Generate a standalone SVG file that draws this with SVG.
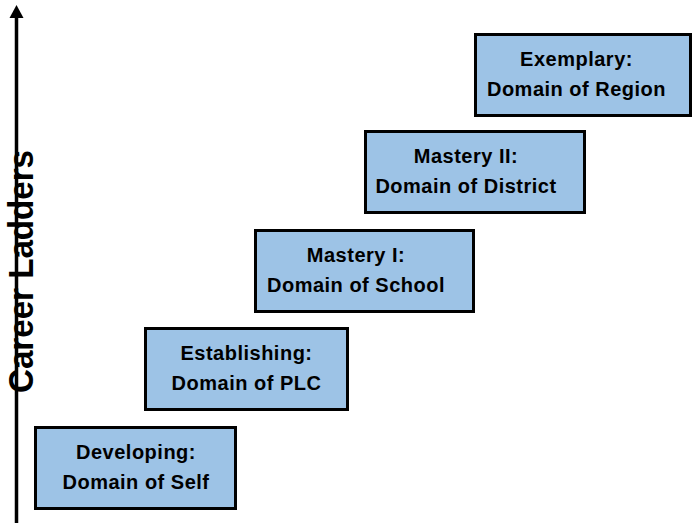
<svg xmlns="http://www.w3.org/2000/svg" width="693" height="523" viewBox="0 0 693 523">
  <style>
    .step rect { fill: #9dc3e6; stroke: #000; stroke-width: 3; }
    .step text { font-family: "Liberation Sans", Arial, sans-serif; font-weight: bold; font-size: 20px; letter-spacing: 0.5px; fill: #000; text-anchor: middle; }
    .axis-label { font-family: "Liberation Sans", Arial, sans-serif; font-weight: bold; font-size: 35px; fill: #000; text-anchor: middle; }
  </style>
  <rect width="693" height="523" fill="#fff"/>

  <!-- vertical axis with arrowhead -->
  <g id="axis">
    <text class="axis-label" transform="translate(33,271.5) rotate(-90)" textLength="243" lengthAdjust="spacingAndGlyphs">Career Ladders</text>
    <line x1="16.5" y1="16" x2="16.5" y2="523" stroke="#000" stroke-width="3.5"/>
    <polygon points="16.5,5 9.5,18 23.5,18" fill="#000"/>
  </g>

  <!-- ladder steps -->
  <g id="developing" class="step">
    <rect x="35.5" y="427.5" width="200" height="81"/>
    <text x="136" y="458.5">Developing:</text>
    <text x="136" y="488.5">Domain of Self</text>
  </g>
  <g id="establishing" class="step">
    <rect x="145.5" y="328.5" width="202" height="81"/>
    <text x="246.5" y="359.5">Establishing:</text>
    <text x="246.5" y="389.5">Domain of PLC</text>
  </g>
  <g id="mastery1" class="step">
    <rect x="255.5" y="230.5" width="218" height="81"/>
    <text x="356" y="261.5">Mastery I:</text>
    <text x="356" y="291.5">Domain of School</text>
  </g>
  <g id="mastery2" class="step">
    <rect x="365.5" y="131.5" width="219" height="81"/>
    <text x="466" y="162.5">Mastery II:</text>
    <text x="466" y="192.5">Domain of District</text>
  </g>
  <g id="exemplary" class="step">
    <rect x="475.5" y="34.5" width="215" height="81"/>
    <text x="576.5" y="65.5">Exemplary:</text>
    <text x="576.5" y="95.5">Domain of Region</text>
  </g>
</svg>
